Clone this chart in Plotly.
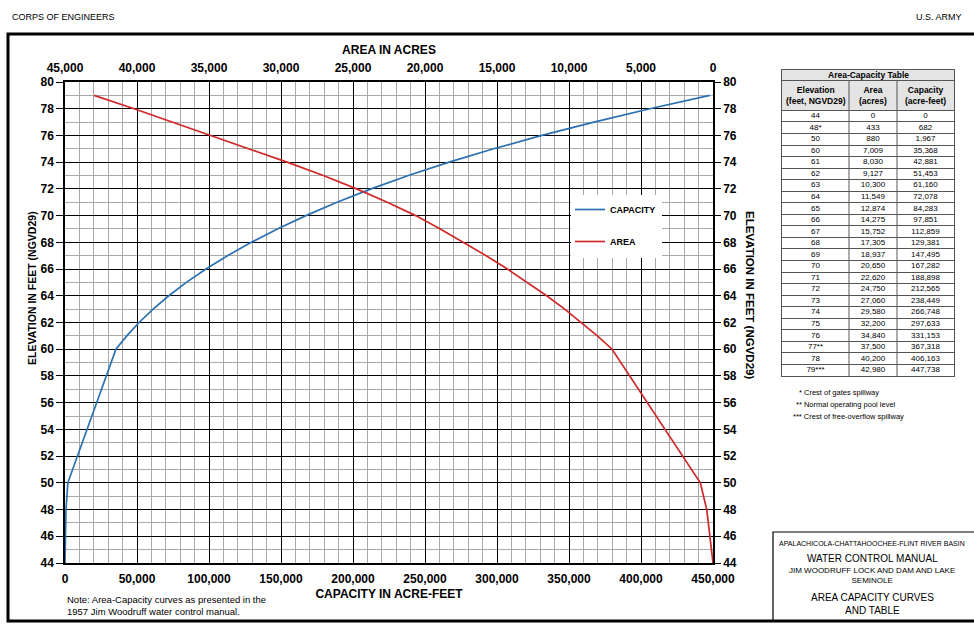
import plotly.graph_objects as go

# area-capacity data (Jim Woodruff / Lake Seminole)
elevation = [44, 48, 50, 60, 61, 62, 63, 64, 65, 66, 67, 68, 69, 70, 71, 72, 73, 74, 75, 76, 77, 78, 79]
elev_labels = ["44", "48*", "50", "60", "61", "62", "63", "64", "65", "66", "67", "68", "69", "70",
               "71", "72", "73", "74", "75", "76", "77**", "78", "79***"]
area_acres = [0, 433, 880, 7009, 8030, 9127, 10300, 11549, 12874, 14275, 15752, 17305, 18937,
              20650, 22620, 24750, 27060, 29580, 32200, 34840, 37500, 40200, 42980]
capacity_af = [0, 682, 1967, 35368, 42881, 51453, 61160, 72078, 84283, 97851, 112859, 129381,
               147495, 167282, 188898, 212565, 238449, 266748, 297633, 331153, 367318, 406163, 447738]
table_headers = ["<b>Elevation<br>(feet, NGVD29)</b>", "<b>Area<br>(acres)</b>",
                 "<b>Capacity<br>(acre-feet)</b>"]
footnotes = ["* Crest of gates spillway", "** Normal operating pool level",
             "*** Crest of free-overflow spillway"]

W, H = 974, 627
FONT = "Liberation Sans, Arial"


def px(x):
    return x / W


def py(y):
    return 1 - y / H


fig = go.Figure()
fig.add_trace(go.Scatter(x=capacity_af, y=elevation, mode="lines", name="CAPACITY",
                         legendgroup="c", line=dict(color="#2b70b0", width=1.7),
                         xaxis="x", yaxis="y", hoverinfo="skip"))
fig.add_trace(go.Scatter(x=area_acres, y=elevation, mode="lines", name="AREA",
                         legendgroup="a", line=dict(color="#d02828", width=1.7),
                         xaxis="x2", yaxis="y2", hoverinfo="skip"))

# table drawn on its own axes: one unit = one row, columns in px widths
col_edges = [0, 67, 115, 172]
col_mid = [(col_edges[i] + col_edges[i + 1]) / 2 for i in range(3)]
rows = list(range(len(elev_labels)))
columns = [elev_labels, [f"{v:,}" for v in area_acres], [f"{v:,}" for v in capacity_af]]
for c, vals in enumerate(columns):
    fig.add_trace(go.Scatter(x=[col_mid[c]] * len(vals), y=[r + 0.5 for r in rows], text=vals,
                             mode="text", textfont=dict(family=FONT, size=8, color="black"),
                             xaxis="x3", yaxis="y3", showlegend=False, hoverinfo="skip"))

HEAD = -31 / 12      # header row top (in row units)
TITLE = HEAD - 11 / 12

tickfont = dict(family=FONT, size=12, color="black", weight="bold")
dom_x = [px(65), px(713)]
dom_y = [py(563), py(82)]

fig.update_layout(
    width=W, height=H, margin=dict(l=0, r=0, t=0, b=0, autoexpand=False),
    paper_bgcolor="white", plot_bgcolor="white",
    font=dict(family=FONT, color="black"),
    xaxis=dict(domain=dom_x, range=[0, 450000], dtick=50000, tick0=0, tickformat=",",
               tickfont=tickfont, ticks="outside", ticklen=4, tickcolor="rgba(0,0,0,0)",
               showgrid=True, gridcolor="black", gridwidth=1.3, zeroline=False,
               minor=dict(dtick=10000, showgrid=True, gridcolor="#a8a8a8", gridwidth=1),
               showline=True, linecolor="black", linewidth=1.5, anchor="y", automargin=False,
               title=dict(text="<b>CAPACITY IN ACRE-FEET</b>", font=dict(family=FONT, size=12),
                          standoff=4)),
    xaxis2=dict(overlaying="x", side="top", anchor="y2", range=[45000, 0], dtick=5000,
                tickformat=",", tickfont=tickfont, ticks="outside", ticklen=3,
                tickcolor="rgba(0,0,0,0)", showgrid=False, zeroline=False, automargin=False,
                showline=True, linecolor="black", linewidth=1.5,
                title=dict(text="<b>AREA IN ACRES</b>", font=dict(family=FONT, size=12),
                           standoff=4)),
    yaxis=dict(domain=dom_y, range=[44, 80], dtick=2, tick0=44, tickfont=tickfont,
               ticks="outside", ticklen=7, tickcolor="black", showgrid=True,
               gridcolor="black", gridwidth=1.3, zeroline=False, automargin=False,
               minor=dict(dtick=1, showgrid=True, gridcolor="#a8a8a8", gridwidth=1),
               showline=True, linecolor="black", linewidth=1.5),
    yaxis2=dict(overlaying="y", side="right", anchor="x2", range=[44, 80], dtick=2, tick0=44,
                tickfont=tickfont, ticks="outside", ticklen=6, tickcolor="black",
                automargin=False, showgrid=False, zeroline=False, showline=True,
                linecolor="black", linewidth=1.5),
    xaxis3=dict(domain=[px(782), px(954)], range=[0, col_edges[-1]], anchor="y3",
                showgrid=False, zeroline=False, showticklabels=False, ticks="",
                showline=True, mirror=True, linecolor="#555", linewidth=1, automargin=False),
    yaxis3=dict(domain=[py(376), py(70)], range=[len(rows), TITLE], anchor="x3",
                tickvals=[HEAD] + rows, showgrid=True, gridcolor="#555", gridwidth=1,
                zeroline=False, showticklabels=False, ticks="", showline=True, mirror=True,
                linecolor="#555", linewidth=1, automargin=False),
    showlegend=True,
    legend=dict(x=px(570), y=py(195), xanchor="left", yanchor="top", bgcolor="rgba(0,0,0,0)",
                traceorder="grouped", tracegroupgap=13,
                font=dict(family=FONT, size=9, color="black", weight="bold")),
)

shapes = [
    # legend background (no curve passes here, so it can sit over the grid)
    dict(type="rect", xref="paper", yref="paper", x0=px(571), x1=px(662), y0=py(258), y1=py(195),
         fillcolor="white", line=dict(width=0), layer="above"),
    # table header fill
    dict(type="rect", xref="x3", yref="y3", x0=0, x1=col_edges[-1], y0=TITLE, y1=0,
         fillcolor="#e4e4e4", line=dict(width=0), layer="below"),
    # page frame
    dict(type="rect", xref="paper", yref="paper", x0=px(8), x1=px(990), y0=py(621), y1=py(34),
         line=dict(color="black", width=3), fillcolor="rgba(0,0,0,0)"),
    # title block
    dict(type="rect", xref="paper", yref="paper", x0=px(773), x1=px(990), y0=py(621), y1=py(532),
         line=dict(color="black", width=1.2), fillcolor="rgba(0,0,0,0)"),
]
# table column separators (not through the title row)
for e in col_edges[1:-1]:
    shapes.append(dict(type="line", xref="x3", yref="y3", x0=e, x1=e, y0=HEAD, y1=len(rows),
                       line=dict(color="#555", width=1)))
fig.update_layout(shapes=shapes)

for c, h in enumerate(table_headers):
    fig.add_annotation(x=col_mid[c], y=HEAD / 2, xref="x3", yref="y3", text=h, showarrow=False,
                       font=dict(family=FONT, size=8.5, color="black"), align="center")
fig.add_annotation(x=col_edges[-1] / 2, y=(HEAD + TITLE) / 2, xref="x3", yref="y3",
                   text="<b>Area-Capacity Table</b>", showarrow=False,
                   font=dict(family=FONT, size=8.5, color="black"))


def note(x, y, text, size, xanchor="left", angle=0, bold=False):
    fig.add_annotation(x=px(x), y=py(y), xref="paper", yref="paper", text=text,
                       showarrow=False, xanchor=xanchor, yanchor="middle", textangle=angle,
                       font=dict(family=FONT, size=size, color="black",
                                 weight="bold" if bold else "normal"),
                       align="left" if xanchor == "left" else "center")


note(10, 17, "CORPS OF ENGINEERS", 9)
note(964, 17, "U.S. ARMY", 9, xanchor="right")
note(32, 288, "ELEVATION IN FEET (NGVD29)", 10.5, xanchor="center", angle=-90, bold=True)
note(750, 295, "ELEVATION IN FEET (NGVD29)", 11.5, xanchor="center", angle=90, bold=True)
note(65, 605, "Note: Area-Capacity curves as presented in the<br>1957 Jim Woodruff water control manual.", 9.5)
for i, t in enumerate(footnotes):
    note(797 - 3 * i, 392 + 12 * i, t, 7.5)

note(872, 543, "APALACHICOLA-CHATTAHOOCHEE-FLINT RIVER BASIN", 7, xanchor="center")
note(872, 558, "WATER CONTROL MANUAL", 10, xanchor="center")
note(872, 575, "JIM WOODRUFF LOCK AND DAM AND LAKE<br>SEMINOLE", 8, xanchor="center")
note(872, 604, "AREA CAPACITY CURVES<br>AND TABLE", 10, xanchor="center")

# page body has a default margin; drop it so the figure sits at the window corner
fig.write_html("out.html", config={"displayModeBar": False},
               post_script="document.body.style.margin = '0';")
